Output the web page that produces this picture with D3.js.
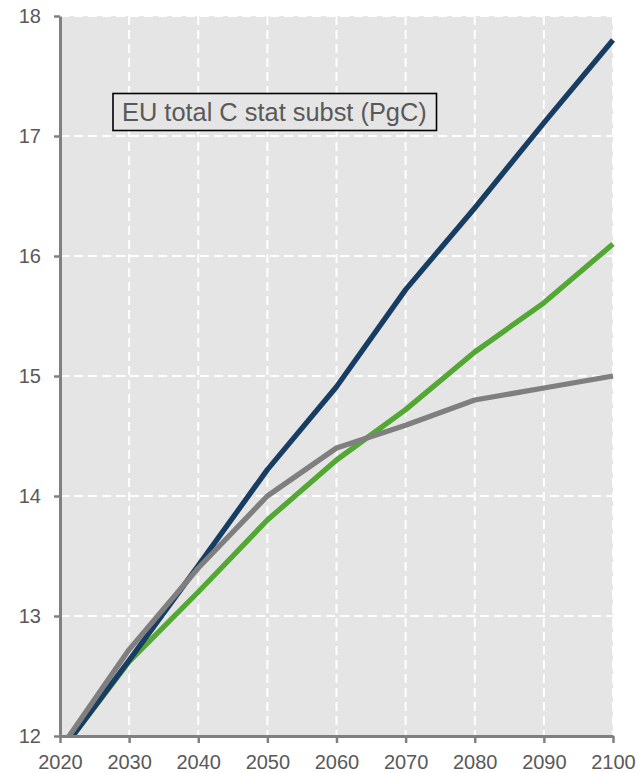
<!DOCTYPE html>
<html>
<head>
<meta charset="utf-8">
<script src="https://cdn.jsdelivr.net/npm/d3@7"></script>
<style>
  html, body { margin: 0; padding: 0; background: #fff; }
  svg { display: block; }
  text { font-family: "Liberation Sans", Arial, sans-serif; }
</style>
</head>
<body>
<svg id="chart" width="641" height="773"></svg>
<script>
const years = [2020, 2030, 2040, 2050, 2060, 2070, 2080, 2090, 2100];
const blueSeries  = [11.86, 12.63, 13.42, 14.22, 14.91, 15.72, 16.40, 17.11, 17.80];
const greenSeries = [11.86, 12.62, 13.20, 13.80, 14.30, 14.72, 15.20, 15.61, 16.10];
const graySeries  = [11.89, 12.72, 13.40, 14.00, 14.40, 14.59, 14.80, 14.90, 15.00];
const xTicks = [2020, 2030, 2040, 2050, 2060, 2070, 2080, 2090, 2100];
const yTicks = [12, 13, 14, 15, 16, 17, 18];
const boxLabel = "EU total C stat subst (PgC)";

const svg = d3.select("#chart");
const pLeft = 60, pRight = 613, pTop = 16, pBottom = 736;

const x = d3.scaleLinear().domain([2020, 2100]).range([pLeft, pRight]);
const y = d3.scaleLinear().domain([12, 18]).range([pBottom, pTop]);

// background
svg.append("rect")
  .attr("x", pLeft).attr("y", pTop)
  .attr("width", pRight - pLeft).attr("height", pBottom - pTop)
  .attr("fill", "#e5e5e5");

// grid
const grid = svg.append("g").attr("stroke", "#ffffff").attr("stroke-width", 2)
  .attr("stroke-dasharray", "9,5");
grid.selectAll("line.v").data(xTicks.slice(1)).enter().append("line")
  .attr("x1", d => x(d)).attr("x2", d => x(d))
  .attr("y1", pTop).attr("y2", pBottom);
grid.selectAll("line.h").data(yTicks.slice(1)).enter().append("line")
  .attr("x1", pLeft).attr("x2", pRight)
  .attr("y1", d => y(d)).attr("y2", d => y(d));

// label box
const box = svg.append("g");
box.append("rect")
  .attr("x", 113).attr("y", 93.5)
  .attr("width", 323.5).attr("height", 37)
  .attr("fill", "#e5e5e5")
  .attr("stroke", "#000").attr("stroke-width", 1.6);
box.append("text")
  .attr("x", 122).attr("y", 121)
  .attr("font-size", 25.4)
  .attr("fill", "#595959")
  .text(boxLabel);

// clip
svg.append("clipPath").attr("id", "clip")
  .append("rect").attr("x", pLeft).attr("y", pTop - 10)
  .attr("width", pRight - pLeft + 10).attr("height", pBottom - pTop + 10);

const line = d3.line().x(d => x(d[0])).y(d => y(d[1]));
const series = [
  { vals: greenSeries, color: "#52a832" },
  { vals: blueSeries, color: "#183d63" },
  { vals: graySeries, color: "#7f7f7f" }
];
const lg = svg.append("g").attr("clip-path", "url(#clip)");
series.forEach(s => {
  lg.append("path")
    .datum(years.map((yr, i) => [yr, s.vals[i]]))
    .attr("d", line)
    .attr("fill", "none")
    .attr("stroke", s.color)
    .attr("stroke-width", 5.3)
    .attr("stroke-linejoin", "round");
});

// axes
const xAxis = svg.append("g")
  .attr("transform", `translate(0,${pBottom})`)
  .call(d3.axisBottom(x).tickValues(xTicks).tickFormat(d3.format("d"))
    .tickSize(7).tickSizeOuter(0).tickPadding(12));
const yAxis = svg.append("g")
  .attr("transform", `translate(${pLeft},0)`)
  .call(d3.axisLeft(y).tickValues(yTicks).tickFormat(d3.format("d"))
    .tickSize(6).tickSizeOuter(0).tickPadding(13));

[xAxis, yAxis].forEach(a => {
  a.select(".domain").attr("stroke", "#808080").attr("stroke-width", 3);
  a.selectAll(".tick line").attr("stroke", "#808080").attr("stroke-width", 2.5);
  a.selectAll(".tick text").attr("fill", "#595959").attr("font-size", 20)
    .attr("font-family", "'Liberation Sans', Arial, sans-serif");
});
</script>
</body>
</html>
